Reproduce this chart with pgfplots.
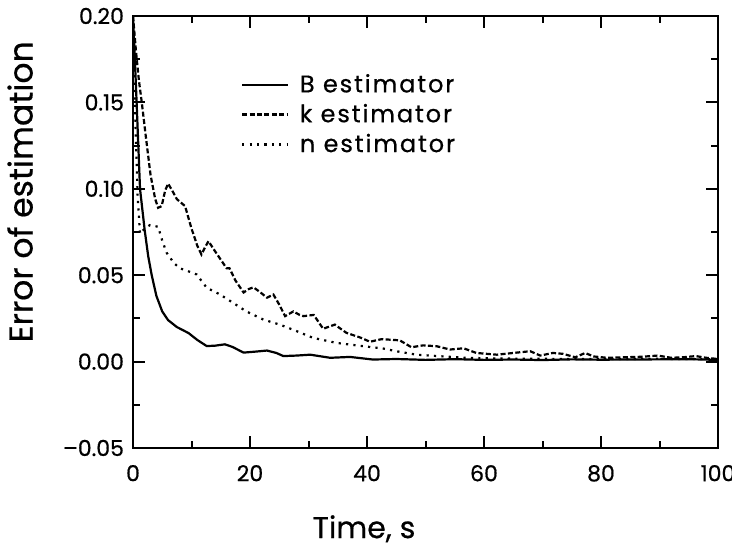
\documentclass[border=0pt]{standalone}
\usepackage{fontspec}
\setmainfont{Poppins}[UprightFeatures={FakeBold=0.6}]
\newfontfamily\legfont{Poppins}[LetterSpace=8,UprightFeatures={FakeBold=0.6}]
\usepackage{pgfplots}
\pgfplotsset{compat=1.18}
\begin{document}
\begin{tikzpicture}
\begin{axis}[
  scale only axis,
  width=292.5pt, height=216pt,
  xmin=0, xmax=100, ymin=-0.05, ymax=0.20,
  xtick={0,20,40,60,80,100},
  ytick={-0.05,0,0.05,0.10,0.15,0.20},
  yticklabels={–0.05,0.00,0.05,0.10,0.15,0.20},
  minor x tick num=1, minor y tick num=1,
  tick align=inside,
  major tick length=6pt, minor tick length=3.5pt,
  axis line style={line width=1.3pt},
  every tick/.style={line width=1pt, black},
  /pgf/number format/assume math mode=true,
  tick label style={font=\fontsize{11}{13}\selectfont},
  xticklabel style={yshift=-5pt},
  yticklabel style={xshift=-1pt},
  every axis x label/.style={at={(axis description cs:0.395,-0.187)}, anchor=center},
  every axis y label/.style={at={(axis description cs:-0.193,0.593)}, anchor=center, rotate=90},
  xlabel={\fontsize{15}{18}\selectfont Time, s},
  ylabel={\fontsize{16.5}{19}\selectfont Error of estimation},
  legend style={draw=none, fill=none, at={(0.174,0.885)}, anchor=north west,
    font=\legfont\fontsize{12}{14}\selectfont, row sep=0.3pt},
  legend cell align=left,
  legend image code/.code={\draw[#1] (0cm,0cm) -- (0.8cm,0cm); \path (0.8cm+3.5pt,0cm);},
]
\addplot[black, line width=1.1pt] coordinates {
(0,0.200) (0.5,0.160) (1.2,0.100) (2.0,0.076) (2.6,0.061) (3.2,0.050) (4.0,0.038)
(5.0,0.029) (6.0,0.024) (7.5,0.020) (9.5,0.0165) (11,0.0125) (12.6,0.009) (14,0.0092)
(15.7,0.0100) (17,0.0085) (18.9,0.0052) (21,0.0058) (22.9,0.0064) (24.5,0.0050)
(25.7,0.0032) (28,0.0035) (30.3,0.0040) (33.7,0.0022) (37.1,0.0027) (41,0.0012)
(45,0.0015) (50,0.0010) (55,0.0014) (60,0.0010) (65,0.0012) (70,0.0009) (75,0.0013)
(80,0.0011) (85,0.0012) (90,0.0013) (95,0.0014) (100,0.0010)
};
\addlegendentry{B estimator}
\addplot[black, line width=1.1pt, dash pattern=on 2.5pt off 1.2pt] coordinates {
(0,0.200) (0.5,0.180) (1.0,0.163) (1.5,0.150) (2.2,0.130) (3.0,0.108) (3.8,0.094)
(4.3,0.089) (4.9,0.090) (5.5,0.099) (6.0,0.1030) (6.7,0.099) (7.5,0.094) (8.9,0.090)
(10,0.077) (11.0,0.067) (11.7,0.062) (12.3,0.066) (12.9,0.0697) (13.8,0.065) (15,0.059)
(16,0.054) (16.5,0.054) (17.5,0.047) (18.9,0.040) (19.8,0.042) (20.6,0.043) (21.8,0.040)
(22.9,0.037) (24.0,0.0388) (25,0.033) (26.0,0.0263) (27.4,0.0290) (28.5,0.027)
(29.1,0.0263) (30.9,0.0270) (32.5,0.0190) (34.5,0.0214) (36.5,0.0166) (38.8,0.0140)
(40.5,0.0115) (42.5,0.0130) (45.6,0.0123) (47.6,0.0083) (49.6,0.0094) (51.9,0.0089)
(54.2,0.0070) (56.5,0.0077) (58.7,0.0050) (62.2,0.0040) (65,0.0050) (67.9,0.0060)
(69.6,0.0035) (71.8,0.0050) (73.5,0.0045) (75.6,0.0025) (77.3,0.0050) (78.7,0.0030)
(81,0.0022) (84,0.0025) (87,0.0028) (89.7,0.0035) (92,0.0022) (94,0.0025) (96.2,0.0032)
(98,0.0022) (100,0.0015)
};
\addlegendentry{k estimator}
\addplot[black, line width=1.1pt, dash pattern=on 1.1pt off 2.6pt] coordinates {
(0,0.200) (0.4,0.140) (0.8,0.095) (1.2,0.074) (2.0,0.077) (2.9,0.079) (4.3,0.078)
(5.0,0.070) (5.75,0.063) (7,0.057) (8.0,0.054) (8.9,0.053) (10.9,0.0504) (12.6,0.0427)
(14.9,0.0388) (17.1,0.0340) (19.4,0.0290) (22.3,0.0243) (25.1,0.0214) (28.0,0.0176)
(30.8,0.0137) (34.8,0.0108) (39.4,0.0089) (42.7,0.0076) (45,0.0060) (48.5,0.0040)
(53,0.0030) (57,0.0022) (62,0.0018) (70,0.0016) (80,0.0015) (90,0.0016) (100,0.0014)
};
\addlegendentry{n estimator}
\coordinate (bl) at (rel axis cs:0,0);
\coordinate (tr) at (rel axis cs:1,1);
\end{axis}
\pgfresetboundingbox
\path[use as bounding box] ([xshift=-66.5pt,yshift=-49pt]bl) rectangle ([xshift=7pt,yshift=8pt]tr);
\end{tikzpicture}
\end{document}
